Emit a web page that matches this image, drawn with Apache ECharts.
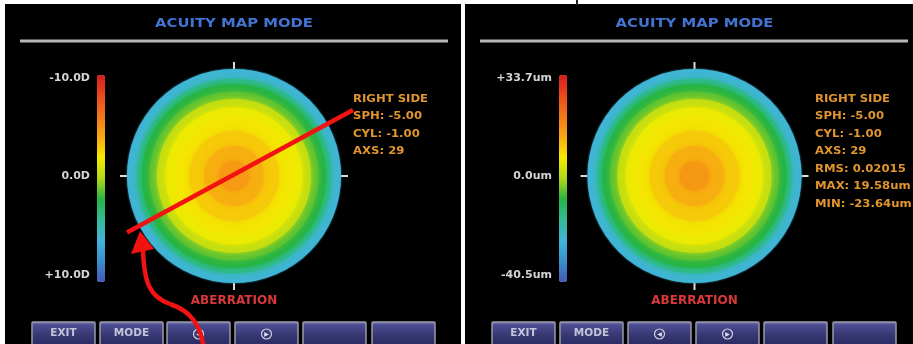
<!DOCTYPE html>
<html>
<head>
<meta charset="utf-8">
<script src="https://cdn.jsdelivr.net/npm/echarts@6/dist/echarts.min.js"></script>
<style>html,body{margin:0;padding:0;background:#fff}#c{width:913px;height:344px}</style>
</head>
<body>
<div id="c"></div>
<script>
// ---- data ----
const panelTitle = 'ACUITY MAP MODE';
const bottomLabel = 'ABERRATION';
// rings of the map, outer radius as fraction of disk radius (centre outward)
const ringOuter = [0.14, 0.28, 0.42, 0.54, 0.64, 0.72, 0.79, 0.86, 0.91, 1.00];
// left map: dioptre values of each ring
const leftRingValues = [-4.6, -3.8, -3.0, -2.2, -1.8, -0.6, 1.2, 2.0, 3.8, 5.8];
// right map: wavefront height (um) of each ring
const rightRingValues = [13.7, 10.7, 7.7, 4.8, 3.3, -1.2, -7.9, -10.8, -17.5, -24.9];
const leftScale = [-10, 10];
const rightScale = [-40.5, 33.7];
const leftBarLabels = ['-10.0D', '0.0D', '+10.0D'];
const rightBarLabels = ['+33.7um', '0.0um', '-40.5um'];
const leftInfo = ['RIGHT SIDE', 'SPH: -5.00', 'CYL: -1.00', 'AXS: 29'];
const rightInfo = ['RIGHT SIDE', 'SPH: -5.00', 'CYL: -1.00', 'AXS: 29', 'RMS: 0.02015', 'MAX: 19.58um', 'MIN: -23.64um'];
const leftButtons = ['EXIT', 'MODE', '◀', '▶', '', ''];
const rightButtons = ['EXIT', 'MODE', '◀', '▶', '', ''];

// ---- style ----
const palette = ['#d41c1c', '#ea4a1c', '#f27818', '#f7a812', '#f4ec00', '#b0d818',
                 '#26b444', '#30bc98', '#42b4dc', '#3890cc', '#4458b4'];
const FONT = '"DejaVu Sans", sans-serif';

const chart = echarts.init(document.getElementById('c'), null, {renderer: 'canvas'});

function ringSeries(idx, values) {
  const n = values.length;
  return {
    type: 'custom',
    coordinateSystem: 'polar',
    polarIndex: idx,
    dimensions: ['r', 'a', 'v'],
    encode: {radius: 'r', angle: 'a'},
    data: ringOuter.map((r, i) => [r, 0, values[i]]),
    silent: true,
    renderItem: function (params, api) {
      const c = api.coord([0, 0]);
      const e = api.coord([api.value(0), 0]);
      const r = Math.hypot(e[0] - c[0], e[1] - c[1]);
      const col = api.visual('color');
      const last = params.dataIndex === n - 1;
      return {
        type: 'circle',
        z2: 100 - params.dataIndex,
        shape: {cx: c[0], cy: c[1], r: r},
        style: {fill: col, shadowBlur: last ? 2 : 6, shadowColor: col}
      };
    }
  };
}

function panelGraphics(ox, cx, info, buttons, infoX, btnXs) {
  const g = [];
  g.push({type: 'text', x: cx, y: 24, scaleX: 1.14, z: 50,
    style: {text: panelTitle, x: 0, y: 0, textAlign: 'center', textVerticalAlign: 'middle',
      font: 'bold 13px ' + FONT, fill: '#4274d4'}});
  g.push({type: 'rect', z: 50, shape: {x: ox + 15, y: 39.5, width: 428, height: 3},
    style: {fill: '#b8b8b8'}});
  info.forEach((t, i) => {
    g.push({type: 'text', x: infoX, y: 99 + i * 17.5, scaleX: 1.06, z: 50,
      style: {text: t, x: 0, y: 0, textAlign: 'left', textVerticalAlign: 'middle',
        font: 'bold 11px ' + FONT, fill: '#e0952e'}});
  });
  g.push({type: 'text', x: cx, y: 301, z: 50,
    style: {text: bottomLabel, x: 0, y: 0, textAlign: 'center', textVerticalAlign: 'middle',
      font: 'bold 12px ' + FONT, fill: '#d83838'}});
  buttons.forEach((t, i) => {
    const bx = btnXs[i];
    g.push({type: 'rect', z: 50, shape: {x: bx, y: 322, width: 63, height: 30, r: 1},
      style: {
        fill: new echarts.graphic.LinearGradient(0, 0, 0, 1, [
          {offset: 0, color: '#8484c4'}, {offset: 0.12, color: '#4c4c92'},
          {offset: 0.5, color: '#34346e'}, {offset: 1, color: '#26265c'}]),
        stroke: '#9a9aa6', lineWidth: 1.5}});
    if (t === '◀' || t === '▶') {
      g.push({type: 'circle', z: 51, shape: {cx: bx + 31.5, cy: 334, r: 5},
        style: {fill: 'none', stroke: '#d0d0e0', lineWidth: 1.2}});
      g.push({type: 'text', x: bx + 31.5, y: 334, z: 51,
        style: {text: t, x: 0, y: 0, textAlign: 'center', textVerticalAlign: 'middle',
          font: '6px ' + FONT, fill: '#e0e0f0'}});
    } else if (t) {
      g.push({type: 'text', x: bx + 31.5, y: 333, scaleX: 1.05, z: 51,
        style: {text: t, x: 0, y: 0, textAlign: 'center', textVerticalAlign: 'middle',
          font: 'bold 10px ' + FONT, fill: '#c4c4d8'}});
    }
  });
  return g;
}

const RED = '#f21212';
const graphics = [
  // white frame / gap between the two screenshots
  {type: 'rect', z: 60, shape: {x: 0, y: 0, width: 913, height: 4}, style: {fill: '#fff'}},
  {type: 'rect', z: 60, shape: {x: 0, y: 0, width: 5, height: 344}, style: {fill: '#fff'}},
  {type: 'rect', z: 60, shape: {x: 461, y: 0, width: 4, height: 344}, style: {fill: '#fff'}},
  {type: 'rect', z: 61, shape: {x: 576, y: 0, width: 2, height: 5}, style: {fill: '#222'}},
  ...panelGraphics(5, 234, leftInfo, leftButtons, 353, [32, 100, 167, 235, 303, 372]),
  ...panelGraphics(465, 694.5, rightInfo, rightButtons, 815, [492, 560, 628, 696, 764, 833]),
  // red annotation line and curved arrow
  {type: 'line', z: 100, shape: {x1: 127, y1: 232.5, x2: 353, y2: 110},
    style: {stroke: RED, lineWidth: 4.5}},
  {type: 'bezierCurve', z: 100,
    shape: {x1: 143, y1: 250, cpx1: 144, cpy1: 283, cpx2: 150, cpy2: 297, x2: 170, y2: 304},
    style: {fill: 'none', stroke: RED, lineWidth: 4.5}},
  {type: 'bezierCurve', z: 100,
    shape: {x1: 170, y1: 304, cpx1: 191, cpy1: 311, cpx2: 201, cpy2: 325, x2: 204, y2: 350},
    style: {fill: 'none', stroke: RED, lineWidth: 4.5}},
  {type: 'polygon', z: 100, shape: {points: [[140, 231], [131, 254], [154, 249]]},
    style: {fill: RED}}
];

function barAxis(idx, labels) {
  return {
    gridIndex: idx, type: 'category', data: labels, inverse: true, boundaryGap: false,
    axisLine: {show: false}, axisTick: {show: false}, splitLine: {show: false},
    axisLabel: {color: '#d4d4d4', fontSize: 11, fontWeight: 'bold', fontFamily: FONT, margin: 7}
  };
}

const option = {
  animation: false,
  backgroundColor: '#000',
  polar: [
    {center: [234, 176], radius: 107},
    {center: [694.5, 176], radius: 107}
  ],
  radiusAxis: [
    {polarIndex: 0, type: 'value', min: 0, max: 1, show: false},
    {polarIndex: 1, type: 'value', min: 0, max: 1, show: false}
  ],
  angleAxis: [0, 1].map(i => ({
    polarIndex: i, type: 'value', min: 0, max: 360, interval: 90, startAngle: 90,
    axisLine: {show: false}, axisLabel: {show: false}, splitLine: {show: false},
    axisTick: {show: true, length: 7, lineStyle: {color: '#dcdcdc', width: 2}}
  })),
  grid: [
    {left: 97, top: 78, width: 8, height: 197},
    {left: 559, top: 78, width: 8, height: 197}
  ],
  xAxis: [
    {gridIndex: 0, type: 'value', show: false},
    {gridIndex: 1, type: 'value', show: false}
  ],
  yAxis: [barAxis(0, leftBarLabels), barAxis(1, rightBarLabels)],
  visualMap: [
    {type: 'continuous', seriesIndex: 0, dimension: 2, min: leftScale[0], max: leftScale[1],
      inverse: true, orient: 'vertical', left: 97, top: 75, itemWidth: 8, itemHeight: 207,
      padding: 0, calculable: false, hoverLink: false, inRange: {color: palette}},
    {type: 'continuous', seriesIndex: 1, dimension: 2, min: rightScale[0], max: rightScale[1],
      orient: 'vertical', left: 559, top: 75, itemWidth: 8, itemHeight: 207,
      padding: 0, calculable: false, hoverLink: false, inRange: {color: palette.slice().reverse()}}
  ],
  series: [ringSeries(0, leftRingValues), ringSeries(1, rightRingValues)],
  graphic: graphics
};
chart.setOption(option);
</script>
</body>
</html>
